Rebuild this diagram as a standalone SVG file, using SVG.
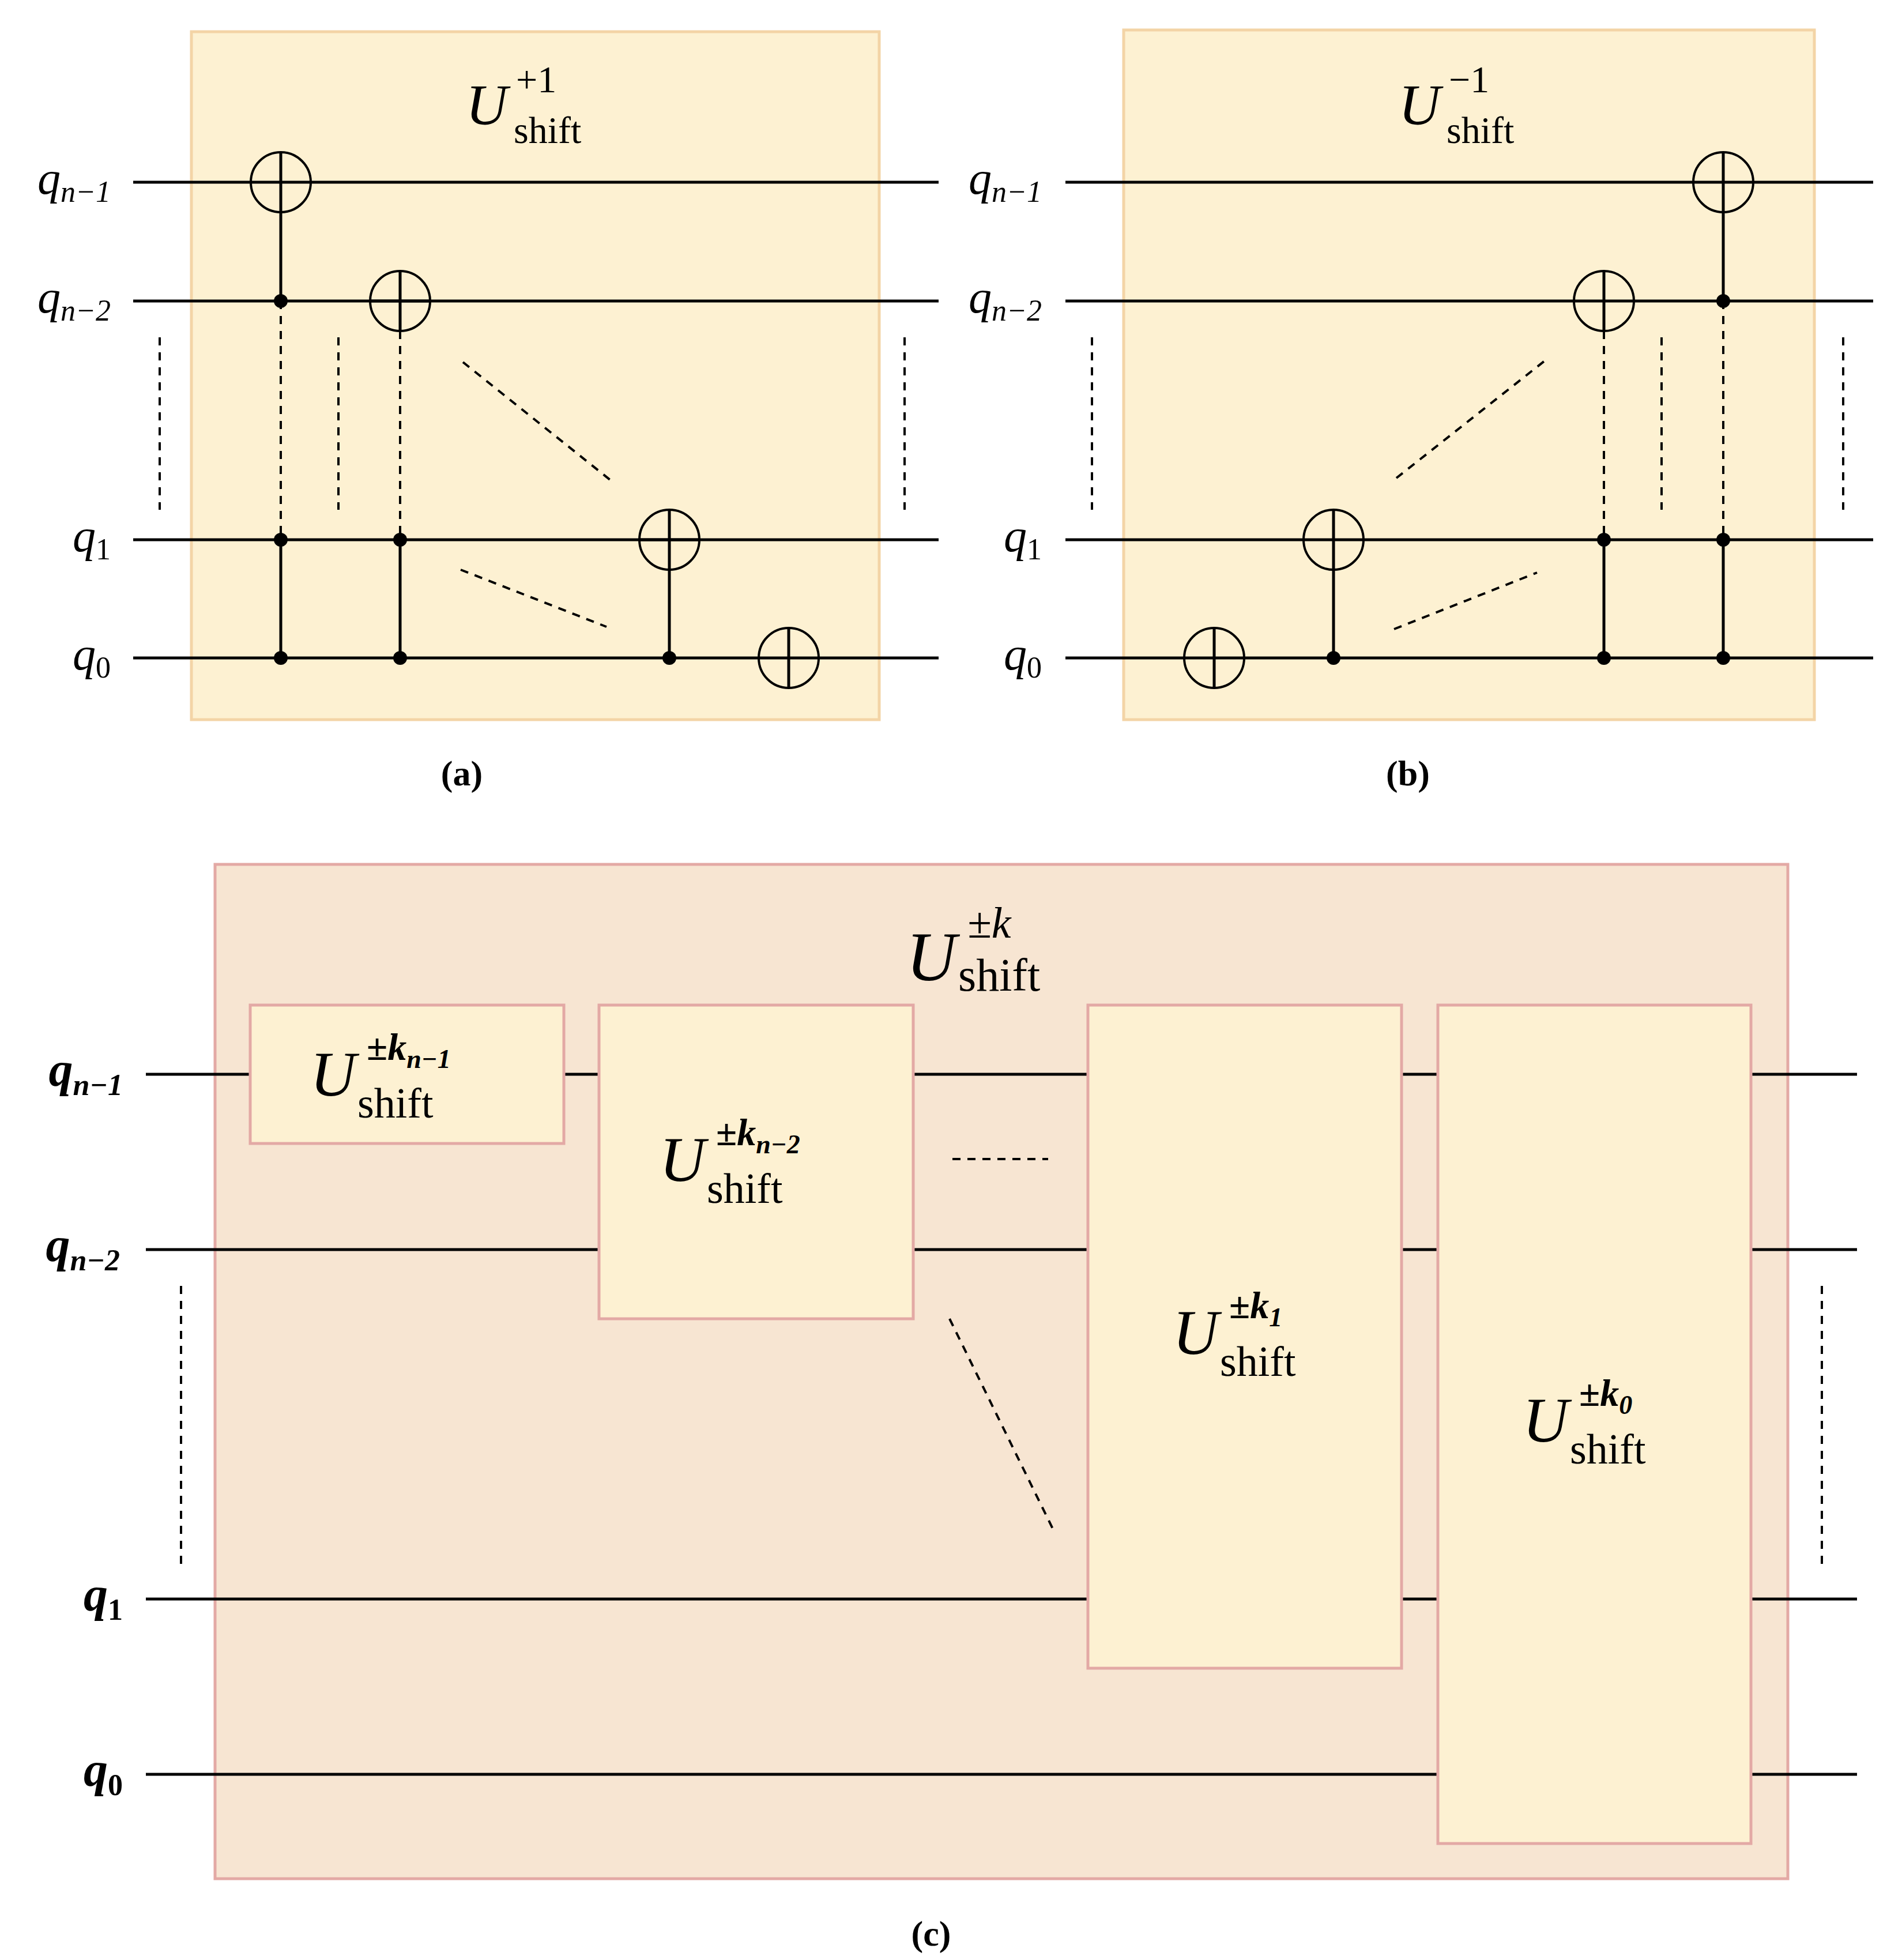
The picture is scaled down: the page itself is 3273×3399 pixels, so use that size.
<svg xmlns="http://www.w3.org/2000/svg" width="3273" height="3399" viewBox="0 0 3273 3399">
<style>
.w{stroke:#000;stroke-width:5;fill:none}
.d{stroke:#000;stroke-width:4;fill:none;stroke-dasharray:14 12}
.t{font-family:"Liberation Serif",serif;fill:#000}
.i{font-style:italic}
.q{font-family:"Liberation Serif",serif;font-style:italic;font-size:80px}
.qb{font-family:"Liberation Serif",serif;font-style:italic;font-weight:bold;font-size:84px}
.s{font-size:52px}
.pa{fill:#fdf1d2;stroke:#f3d4a6;stroke-width:5}
.pc{fill:#f7e5d2;stroke:#e3a9a5;stroke-width:5}
.gb{fill:#fdf1d2;stroke:#e3a9a5;stroke-width:5}
.o{fill:none;stroke:#000;stroke-width:4}
</style>
<g id="panel-a">
<rect class="pa" x="332" y="55" width="1193" height="1193"/>
<text class="t" font-size="100" x="808" y="215"><tspan class="i">U</tspan><tspan font-size="66" x="895" y="160">+1</tspan><tspan font-size="66" x="891" y="248">shift</tspan></text>
<text class="q" x="192" y="336" text-anchor="end">q<tspan class="s" dy="14">n−1</tspan></text>
<text class="q" x="192" y="542" text-anchor="end">q<tspan class="s" dy="14">n−2</tspan></text>
<text class="q" x="192" y="956" text-anchor="end">q<tspan class="s" dy="14" font-style="normal">1</tspan></text>
<text class="q" x="192" y="1161" text-anchor="end">q<tspan class="s" dy="14" font-style="normal">0</tspan></text>
<text class="t" font-size="62" font-weight="bold" x="801" y="1362" text-anchor="middle">(a)</text>
</g>
<g id="panel-b">
<rect class="pa" x="1949" y="52" width="1198" height="1196"/>
<text class="t" font-size="100" x="2426" y="215"><tspan class="i">U</tspan><tspan font-size="66" x="2513" y="160">−1</tspan><tspan font-size="66" x="2509" y="248">shift</tspan></text>
<text class="q" x="1807" y="336" text-anchor="end">q<tspan class="s" dy="14">n−1</tspan></text>
<text class="q" x="1807" y="542" text-anchor="end">q<tspan class="s" dy="14">n−2</tspan></text>
<text class="q" x="1807" y="956" text-anchor="end">q<tspan class="s" dy="14" font-style="normal">1</tspan></text>
<text class="q" x="1807" y="1161" text-anchor="end">q<tspan class="s" dy="14" font-style="normal">0</tspan></text>
<text class="t" font-size="62" font-weight="bold" x="2442" y="1362" text-anchor="middle">(b)</text>
</g>
<g id="panel-c">
<rect class="pc" x="373" y="1499" width="2728" height="1759"/>
<text class="t" font-size="120" x="1572" y="1700"><tspan class="i">U</tspan><tspan font-size="76" class="i" x="1678" y="1626">±k</tspan><tspan font-size="80" x="1662" y="1718">shift</tspan></text>
<text class="qb" x="213" y="1883" text-anchor="end">q<tspan class="s" dy="16">n−1</tspan></text>
<text class="qb" x="208" y="2187" text-anchor="end">q<tspan class="s" dy="16">n−2</tspan></text>
<text class="qb" x="213" y="2793" text-anchor="end">q<tspan class="s" dy="16" font-style="normal">1</tspan></text>
<text class="qb" x="213" y="3097" text-anchor="end">q<tspan class="s" dy="16" font-style="normal">0</tspan></text>
<text class="t" font-size="62" font-weight="bold" x="1615" y="3374" text-anchor="middle">(c)</text>
</g>
<g id="connectors">
<path class="w" d="M231 316H1628M231 522H1628M231 936H1628M231 1141H1628"/>
<path class="w" d="M487 264V522M487 936V1141M694 936V1141M1161 884V1141M1368 1089V1193"/>
<path class="d" d="M487 522V936M694 574V936M277 585V884M587 585V884M1569 585V884M803 628L1063 836M799 988L1052 1087"/>
<path class="w" d="M1848 316H3249M1848 522H3249M1848 936H3249M1848 1141H3249"/>
<path class="w" d="M2106 1089V1193M2313 884V1141M2782 936V1141M2989 264V522M2989 936V1141"/>
<path class="d" d="M2782 574V936M2989 522V936M1894 585V884M2882 585V884M3197 585V884M2422 829L2684 622M2418 1091L2666 993"/>
<path class="w" d="M253 1863H3221M253 2167H3221M253 2773H3221M253 3077H3221"/>
<path class="d" d="M1652 2010H1818M1647 2287L1826 2651M314 2230V2712M3160 2230V2712"/>
</g>
<g id="gates-a">
<circle class="o" cx="487" cy="316" r="52"/><circle cx="487" cy="522" r="12"/><circle cx="487" cy="936" r="12"/><circle cx="487" cy="1141" r="12"/>
<circle class="o" cx="694" cy="522" r="52"/><path class="w" d="M694 470V574M642 522H746"/><circle cx="694" cy="936" r="12"/><circle cx="694" cy="1141" r="12"/>
<circle class="o" cx="1161" cy="936" r="52"/><path class="w" d="M1109 936H1213"/><circle cx="1161" cy="1141" r="12"/>
<circle class="o" cx="1368" cy="1141" r="52"/>
</g>
<g id="gates-b">
<circle class="o" cx="2106" cy="1141" r="52"/>
<circle class="o" cx="2313" cy="936" r="52"/><circle cx="2313" cy="1141" r="12"/>
<circle class="o" cx="2782" cy="522" r="52"/><path class="w" d="M2782 470V574"/><circle cx="2782" cy="936" r="12"/><circle cx="2782" cy="1141" r="12"/>
<circle class="o" cx="2989" cy="316" r="52"/><circle cx="2989" cy="522" r="12"/><circle cx="2989" cy="936" r="12"/><circle cx="2989" cy="1141" r="12"/>
</g>
<g id="box1"><rect class="gb" x="434" y="1743" width="544" height="240"/>
<text class="t" font-size="110" x="538" y="1900"><tspan class="i">U</tspan><tspan font-size="66" class="i" font-weight="bold" x="636" y="1838">±k</tspan><tspan font-size="46" class="i" font-weight="bold" dy="14">n−1</tspan><tspan font-size="74" x="620" y="1938">shift</tspan></text></g>
<g id="box2"><rect class="gb" x="1039" y="1743" width="545" height="544"/>
<text class="t" font-size="110" x="1144" y="2048"><tspan class="i">U</tspan><tspan font-size="66" class="i" font-weight="bold" x="1242" y="1986">±k</tspan><tspan font-size="46" class="i" font-weight="bold" dy="14">n−2</tspan><tspan font-size="74" x="1226" y="2086">shift</tspan></text></g>
<g id="box3"><rect class="gb" x="1887" y="1743" width="544" height="1150"/>
<text class="t" font-size="110" x="2034" y="2348"><tspan class="i">U</tspan><tspan font-size="66" class="i" font-weight="bold" x="2132" y="2286">±k</tspan><tspan font-size="46" class="i" font-weight="bold" dy="14">1</tspan><tspan font-size="74" x="2116" y="2386">shift</tspan></text></g>
<g id="box4"><rect class="gb" x="2494" y="1743" width="543" height="1454"/>
<text class="t" font-size="110" x="2641" y="2500"><tspan class="i">U</tspan><tspan font-size="66" class="i" font-weight="bold" x="2739" y="2438">±k</tspan><tspan font-size="46" class="i" font-weight="bold" dy="14">0</tspan><tspan font-size="74" x="2723" y="2538">shift</tspan></text></g>
</svg>
